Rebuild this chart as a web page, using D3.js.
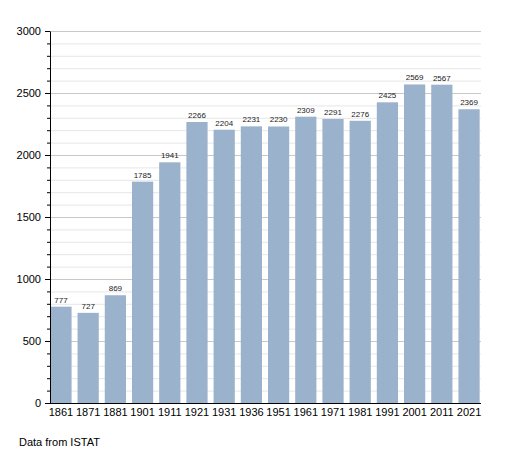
<!DOCTYPE html>
<html>
<head>
<meta charset="utf-8">
<script src="https://cdn.jsdelivr.net/npm/d3@7"></script>
<style>
  body { margin: 0; background: #fff; }
  svg { font-family: "Liberation Sans", Arial, sans-serif; }
</style>
</head>
<body>
<script>
// census years and inhabitants
var years = ["1861", "1871", "1881", "1901", "1911", "1921", "1931", "1936",
  "1951", "1961", "1971", "1981", "1991", "2001", "2011", "2021"];
var population = [777, 727, 869, 1785, 1941, 2266, 2204, 2231,
  2230, 2309, 2291, 2276, 2425, 2569, 2567, 2369];
var yTicks = [0, 500, 1000, 1500, 2000, 2500, 3000];
var source = "Data from ISTAT";

var width = 508, height = 453;

var svg = d3.select("body").append("svg")
  .attr("width", width)
  .attr("height", height);

var x = d3.scaleBand()
  .domain(years)
  .range([49, 481])
  .paddingInner(0.22)
  .paddingOuter(0.05);

var y = d3.scaleLinear()
  .domain([0, 3000])
  .range([403, 31]);

// minor grid every 100, major every 500
svg.append("g")
  .selectAll("line")
  .data(d3.range(100, 3001, 100))
  .enter().append("line")
  .attr("x1", 50)
  .attr("x2", 481)
  .attr("y1", function(d) { return y(d) + 0.5; })
  .attr("y2", function(d) { return y(d) + 0.5; })
  .attr("stroke", function(d) { return d % 500 == 0 ? "#c8c8c8" : "#e6e6e6"; })
  .attr("stroke-width", 1);

// bars
svg.append("g")
  .selectAll("rect")
  .data(years)
  .enter().append("rect")
  .attr("x", function(d) { return x(d); })
  .attr("width", x.bandwidth())
  .attr("y", function(d, i) { return y(population[i]); })
  .attr("height", function(d, i) { return y(0) - y(population[i]); })
  .attr("fill", "#9ab2cb");

// value labels above the bars
svg.append("g")
  .selectAll("text")
  .data(years)
  .enter().append("text")
  .attr("x", function(d) { return x(d) + x.bandwidth() / 2; })
  .attr("y", function(d, i) { return y(population[i]) - 4; })
  .attr("text-anchor", "middle")
  .attr("font-size", 8)
  .attr("fill", "#222")
  .text(function(d, i) { return population[i]; });

// y axis with minor ticks
var yMinor = d3.axisLeft(y)
  .tickValues(d3.range(0, 3001, 100))
  .tickSize(3)
  .tickFormat("");

svg.append("g")
  .attr("transform", "translate(50,0)")
  .call(yMinor)
  .call(function(g) { g.select(".domain").remove(); })
  .selectAll("line").attr("stroke", "#000");

var yAxis = d3.axisLeft(y)
  .tickValues(yTicks)
  .tickFormat(d3.format("d"))
  .tickSize(5)
  .tickPadding(4)
  .tickSizeOuter(0);

svg.append("g")
  .attr("transform", "translate(50,0)")
  .call(yAxis)
  .call(function(g) {
    g.select(".domain").attr("stroke", "#000");
    g.selectAll("text").attr("font-size", 11).attr("fill", "#000")
      .attr("font-family", "Liberation Sans, Arial, sans-serif");
  });

// x axis
var xAxis = d3.axisBottom(x)
  .tickSize(0)
  .tickPadding(5)
  .tickSizeOuter(0);

svg.append("g")
  .attr("transform", "translate(0,403)")
  .call(xAxis)
  .call(function(g) {
    g.select(".domain").attr("stroke", "#000").attr("d", "M49.5,0.5H481");
    g.selectAll("text").attr("font-size", 11).attr("fill", "#000")
      .attr("font-family", "Liberation Sans, Arial, sans-serif");
  });

svg.append("text")
  .attr("x", 19)
  .attr("y", 446)
  .attr("font-size", 11)
  .attr("fill", "#000")
  .text(source);
</script>
</body>
</html>
